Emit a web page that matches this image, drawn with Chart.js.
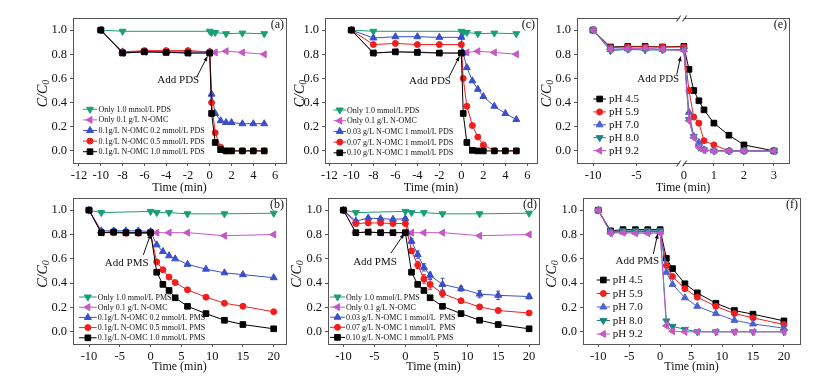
<!DOCTYPE html>
<html>
<head>
<meta charset="utf-8">
<script src="https://cdn.jsdelivr.net/npm/chart.js@4.4.0/dist/chart.umd.min.js"></script>
<style>
html,body{margin:0;padding:0;background:#fff;}
#wrap{position:relative;width:819px;height:382px;overflow:hidden;}
#wrap canvas{position:absolute;}
</style>
</head>
<body>
<div id="wrap"></div>
<script>
// ---- data ----
// PDS panels (a), (c): time in min
var timePDS      = [-10,-8,-6,-4,-2,0,0.17,0.5,1,1.5,2,3,4,5];
var timeCtrlPDS  = [-10,-8,0,0.17,0.5,1.5,3,5];
var timeOmcPDS   = [-10,-8,-6,-4,-2,0,0.5,1.5,3,5];
var pdsOnly      = [1.0,0.99,0.99,0.98,0.98,0.97,0.975,0.97];
var omcOnlyPDS   = [1.0,0.81,0.82,0.82,0.81,0.81,0.815,0.825,0.815,0.80];
var aPDS02 = [1.0,0.82,0.82,0.82,0.82,0.82,0.47,0.31,0.25,0.235,0.235,0.225,0.225,0.225];
var aPDS05 = [1.0,0.82,0.83,0.83,0.83,0.82,0.40,0.15,0.03,0.0,0.0,0.0,0.0,0.0];
var aPDS10 = [1.0,0.81,0.82,0.815,0.81,0.81,0.31,0.07,0.01,0.0,0.0,0.0,0.0,0.0];
var cOMC003 = [1.0,0.935,0.945,0.945,0.94,0.94,0.81,0.69,0.58,0.51,0.45,0.37,0.31,0.26];
var cOMC007 = [1.0,0.88,0.89,0.88,0.88,0.88,0.60,0.37,0.21,0.115,0.05,0.0,0.0,0.0];
var cOMC010 = [1.0,0.81,0.82,0.815,0.81,0.81,0.31,0.07,0.005,0.0,0.0,0.0,0.0,0.0];

// PMS panels (b), (d)
var timePMS     = [-10,-8,-6,-4,-2,0,1,2,3,4,6,9,12,15,20];
var timeCtrlPMS = [-10,-8,0,1,3,6,12,20];
var timeOmcPMS  = [-10,-8,-6,-4,-2,0,1,3,6,12,20];
var pmsOnly     = [1.0,0.98,0.99,0.98,0.98,0.97,0.97,0.975];
var omcOnlyPMS  = [1.0,0.815,0.82,0.815,0.815,0.815,0.815,0.815,0.815,0.79,0.80];
var bPMS02 = [1.0,0.83,0.83,0.83,0.83,0.825,0.715,0.66,0.625,0.60,0.555,0.515,0.485,0.47,0.445];
var bPMS05 = [1.0,0.815,0.815,0.81,0.81,0.81,0.575,0.51,0.45,0.405,0.345,0.285,0.235,0.21,0.165];
var bPMS10 = [1.0,0.815,0.82,0.815,0.815,0.815,0.49,0.39,0.34,0.28,0.21,0.15,0.095,0.06,0.025];
var dOMC003 = [1.0,0.91,0.935,0.93,0.925,0.93,0.745,0.635,0.53,0.465,0.39,0.355,0.31,0.30,0.29];
var dOMC007 = [1.0,0.89,0.895,0.895,0.89,0.89,0.665,0.55,0.435,0.39,0.315,0.255,0.205,0.175,0.155];
var dOMC010 = [1.0,0.815,0.82,0.815,0.815,0.815,0.49,0.39,0.34,0.28,0.21,0.15,0.095,0.06,0.025];
var dErr003 = [0,0.01,0.01,0.01,0.01,0.01,0.02,0.03,0.03,0.025,0.05,0.02,0.03,0.035,0.02];
var dErr007 = [0,0.01,0.01,0.01,0.01,0.01,0.02,0.03,0.035,0.04,0.03,0.015,0.015,0.01,0.01];

// pH panels (e) PDS, (f) PMS
var timePHe = [-10,-8,-6,-4,-2,0,0.17,0.33,0.5,0.67,1,1.5,2,3];
var e45 = [1.0,0.86,0.865,0.865,0.86,0.865,0.675,0.50,0.415,0.34,0.23,0.13,0.05,0.0];
var e59 = [1.0,0.855,0.86,0.86,0.86,0.86,0.50,0.28,0.23,0.085,0.05,0.0,0.0,0.0];
var e70 = [1.0,0.84,0.845,0.845,0.84,0.84,0.32,0.12,0.07,0.01,0.0,0.0,0.0,0.0];
var e80 = [1.0,0.83,0.84,0.835,0.835,0.835,0.26,0.12,0.03,0.01,0.0,0.0,0.0,0.0];
var e92 = [1.0,0.84,0.845,0.85,0.84,0.83,0.25,0.11,0.03,0.005,0.0,0.0,0.0,0.0];
var timePHf = [-10,-8,-6,-4,-2,0,1,2,4,6,9,12,15,20];
var f45 = [1.0,0.83,0.84,0.84,0.84,0.84,0.605,0.52,0.395,0.32,0.235,0.175,0.145,0.09];
var f59 = [1.0,0.82,0.825,0.825,0.825,0.825,0.545,0.455,0.355,0.285,0.21,0.15,0.115,0.06];
var f70 = [1.0,0.82,0.82,0.82,0.82,0.82,0.49,0.39,0.28,0.21,0.15,0.095,0.065,0.03];
var f80 = [1.0,0.815,0.83,0.83,0.83,0.83,0.09,0.045,0.02,0.0,0.0,0.0,0.0,0.0];
var f92 = [1.0,0.81,0.815,0.81,0.81,0.81,0.05,0.005,0.0,0.0,0.0,0.0,0.0,0.0];

// tick labels
var yTicks   = [0,0.2,0.4,0.6,0.8,1.0];
var xTicksAC = [-12,-10,-8,-6,-4,-2,0,2,4,6];
var xTicksBDF= [-10,-5,0,5,10,15,20];
var xTicksE  = [-10,-5,0,1,2,3];

// ---- styles ----
var SERIF = '"Liberation Serif","Times New Roman",serif';
Chart.defaults.font.family = SERIF;
Chart.defaults.color = '#111';
var AX = '#555';
var GREEN='#1a9e78', MAG='#c558c5', BLUE='#3b4fc8', RED='#f21d1d', BLACK='#000000', TEAL='#1b8585', BLUE2='#4a62d0';
var DOWN={s:'triangle',r:180,rad:4}, LEFT={s:'triangle',r:270,rad:4}, UP={s:'triangle',r:0,rad:4},
    DOT={s:'circle',r:0,rad:3}, SQ={s:'rect',r:0,rad:4};

// broken axis in (e): left part 1:1, right part stretched
function eX(t){ return t < 0 ? t : 0.46 + t*3.46; }

var wrap = document.getElementById('wrap');

function arrow(ctx,x1,y1,x2,y2){
  ctx.beginPath(); ctx.moveTo(x1,y1); ctx.lineTo(x2,y2); ctx.stroke();
  var ang=Math.atan2(y2-y1,x2-x1), hl=5, hw=0.42;
  ctx.beginPath(); ctx.moveTo(x2,y2);
  ctx.lineTo(x2-hl*Math.cos(ang-hw), y2-hl*Math.sin(ang-hw));
  ctx.lineTo(x2-hl*Math.cos(ang+hw), y2-hl*Math.sin(ang+hw));
  ctx.closePath(); ctx.fill();
}

function marker(ctx,d,x,y){
  ctx.fillStyle=d.borderColor; ctx.strokeStyle=d.borderColor; ctx.lineWidth=1;
  if (Chart.helpers && Chart.helpers.drawPoint) {
    Chart.helpers.drawPoint(ctx,{pointStyle:d.pointStyle,rotation:d.rotation,radius:d.pointRadius,borderWidth:1},x,y);
  } else {
    ctx.beginPath(); ctx.arc(x,y,3,0,Math.PI*2); ctx.fill();
  }
}

function panel(p){
  var L=p.box[0],T=p.box[1],R=p.box[2],B=p.box[3];
  var padL=62,padT=12,padR=16,padB=40;
  var cv=document.createElement('canvas');
  cv.width=R-L+padL+padR; cv.height=B-T+padT+padB;
  cv.style.left=(L-padL)+'px'; cv.style.top=(T-padT)+'px';
  wrap.appendChild(cv);
  var n=p.series.length;
  var datasets=p.series.map(function(s,i){
    var xs = p.xmap ? s.t.map(p.xmap) : s.t;
    return {label:s.label, data:xs.map(function(x,k){return {x:x,y:s.v[k]};}),
      borderColor:s.c, backgroundColor:s.c, pointBackgroundColor:s.c, pointBorderColor:s.c,
      borderWidth:1, pointStyle:s.m.s, rotation:s.m.r, pointRadius:s.m.rad, pointHoverRadius:s.m.rad,
      pointBorderWidth:1, tension:0, fill:false, order:n-1-i, err:s.e};
  });

  var deco={
    id:'deco',
    afterDraw:function(chart){
      var ctx=chart.ctx, a=chart.chartArea, xs=chart.scales.x, ys=chart.scales.y;
      ctx.save();
      // error bars
      chart.data.datasets.forEach(function(d){
        if(!d.err) return;
        ctx.strokeStyle=d.borderColor; ctx.lineWidth=1;
        d.data.forEach(function(pt,k){
          var e=d.err[k]; if(!e) return;
          var px=xs.getPixelForValue(pt.x), y1=ys.getPixelForValue(pt.y+e), y2=ys.getPixelForValue(pt.y-e);
          ctx.beginPath(); ctx.moveTo(px,y1); ctx.lineTo(px,y2);
          ctx.moveTo(px-2,y1); ctx.lineTo(px+2,y1); ctx.moveTo(px-2,y2); ctx.lineTo(px+2,y2); ctx.stroke();
        });
      });
      // frame
      ctx.strokeStyle=AX; ctx.lineWidth=1;
      ctx.strokeRect(a.left+0.5,a.top+0.5,a.right-a.left,a.bottom-a.top);
      // axis break
      if(p.brk!==undefined){
        var bx=xs.getPixelForValue(p.brk);
        [a.top+0.5,a.bottom+0.5].forEach(function(yy){
          ctx.fillStyle='#fff'; ctx.fillRect(bx-2,yy-1.5,4,3);
          ctx.strokeStyle='#333'; ctx.beginPath();
          ctx.moveTo(bx-5,yy+3); ctx.lineTo(bx-1,yy-3);
          ctx.moveTo(bx+1,yy+3); ctx.lineTo(bx+5,yy-3); ctx.stroke();
        });
      }
      // legend
      var lg=p.legend;
      chart.data.datasets.forEach(function(d,i){
        var y=a.top+lg.y0+i*lg.dy, x1=a.left+lg.x1, x2=a.left+lg.x2;
        ctx.strokeStyle=d.borderColor; ctx.lineWidth=1;
        ctx.beginPath(); ctx.moveTo(x1,y); ctx.lineTo(x2,y); ctx.stroke();
        marker(ctx,d,(x1+x2)/2,y);
        ctx.fillStyle='#111'; ctx.font=lg.fs+'px '+SERIF; ctx.textAlign='left'; ctx.textBaseline='middle';
        ctx.fillText(d.label,a.left+lg.tx,y+0.5);
      });
      // "Add ..." annotation
      var an=p.note;
      ctx.fillStyle='#111'; ctx.strokeStyle='#111'; ctx.lineWidth=1;
      ctx.font='11px '+SERIF; ctx.textAlign='center'; ctx.textBaseline='middle';
      ctx.fillText(an.text,a.left+an.tx,a.top+an.ty);
      arrow(ctx,a.left+an.x1,a.top+an.y1,a.left+an.x2,a.top+an.y2);
      // panel letter
      ctx.font='12px '+SERIF; ctx.textAlign='right';
      ctx.fillText(p.tag,a.right-2,a.top+6.5);
      // x title
      ctx.textAlign='center';
      ctx.fillText('Time (min)',(a.left+a.right)/2,a.bottom+p.xty);
      // y title C/C0
      ctx.translate(a.left-p.ytx,(a.top+a.bottom)/2+3); ctx.rotate(-Math.PI/2);
      ctx.font='italic 14px '+SERIF; var w1=ctx.measureText('C/C').width;
      ctx.font='italic 10px '+SERIF; var w2=ctx.measureText('0').width;
      var sx=-(w1+w2)/2;
      ctx.textAlign='left'; ctx.font='italic 14px '+SERIF; ctx.fillText('C/C',sx,0);
      ctx.font='italic 10px '+SERIF; ctx.fillText('0',sx+w1,3);
      ctx.restore();
    }
  };

  new Chart(cv,{
    type:'line',
    data:{datasets:datasets},
    options:{
      responsive:false, animation:false, devicePixelRatio:1,
      layout:{padding:{left:0,top:padT,right:padR,bottom:0}},
      plugins:{legend:{display:false},tooltip:{enabled:false}},
      scales:{
        x:{type:'linear',min:p.xmin,max:p.xmax,
          afterBuildTicks:function(s){s.ticks=p.xticks.map(function(v){return {value:v};});},
          afterFit:function(s){s.height=padB;s.paddingLeft=0;s.paddingRight=0;},
          ticks:{callback:function(v,i){return p.xlabels[i];},font:{size:12.5},color:'#111',padding:2,maxRotation:0,autoSkip:false},
          grid:{drawOnChartArea:false,drawTicks:true,tickLength:3,color:AX},
          border:{display:true,color:AX,width:1}},
        y:{type:'linear',min:-0.1,max:1.1,
          afterBuildTicks:function(s){s.ticks=yTicks.map(function(v){return {value:v};});},
          afterFit:function(s){s.width=padL;s.paddingTop=0;s.paddingBottom=0;},
          ticks:{callback:function(v){return v.toFixed(1);},font:{size:12.5},color:'#111',padding:3,autoSkip:false},
          grid:{drawOnChartArea:false,drawTicks:true,tickLength:3,color:AX},
          border:{display:true,color:AX,width:1}}
      }
    },
    plugins:[deco]
  });
}

// (a)
panel({box:[73,18,286,163], xmin:-12.55, xmax:7.0, xticks:xTicksAC, xlabels:xTicksAC.map(String), tag:'(a)', xty:25, ytx:30,
  legend:{x1:10,x2:24,tx:25.5,y0:91.3,dy:10.6,fs:8},
  note:{text:'Add PDS',tx:105.3,ty:62,x1:123.7,y1:59.3,x2:134.3,y2:38.5},
  series:[
    {label:'Only 1.0 mmol/L PDS',t:timeCtrlPDS,v:pdsOnly,c:GREEN,m:DOWN},
    {label:'Only 0.1 g/L N-OMC',t:timeOmcPDS,v:omcOnlyPDS,c:MAG,m:LEFT},
    {label:'0.1g/L N-OMC 0.2 mmol/L PDS',t:timePDS,v:aPDS02,c:BLUE,m:UP},
    {label:'0.1g/L N-OMC 0.5 mmol/L PDS',t:timePDS,v:aPDS05,c:RED,m:DOT},
    {label:'0.1g/L N-OMC 1.0 mmol/L PDS',t:timePDS,v:aPDS10,c:BLACK,m:SQ}
  ]});

// (c)
panel({box:[325,18,537,163], xmin:-12.4, xmax:6.88, xticks:xTicksAC, xlabels:xTicksAC.map(String), tag:'(c)', xty:25, ytx:25,
  legend:{x1:8.5,x2:21,tx:22,y0:92,dy:10.7,fs:8},
  note:{text:'Add PDS',tx:105,ty:63,x1:124,y1:59,x2:134.3,y2:38.5},
  series:[
    {label:'Only 1.0 mmol/L PDS',t:timeCtrlPDS,v:pdsOnly,c:GREEN,m:DOWN},
    {label:'Only 0.1 g/L N-OMC',t:timeOmcPDS,v:omcOnlyPDS,c:MAG,m:LEFT},
    {label:'0.03 g/L N-OMC 1 mmol/L PDS',t:timePDS,v:cOMC003,c:BLUE,m:UP},
    {label:'0.07 g/L N-OMC 1 mmol/L PDS',t:timePDS,v:cOMC007,c:RED,m:DOT},
    {label:'0.10 g/L N-OMC 1 mmol/L PDS',t:timePDS,v:cOMC010,c:BLACK,m:SQ}
  ]});

// (e) broken time axis
panel({box:[577,18,789,163], xmin:-11.85, xmax:12.57, xmap:eX, brk:0.2,
  xticks:xTicksE.map(eX), xlabels:xTicksE.map(String), tag:'(e)', xty:25, ytx:30,
  legend:{x1:16.3,x2:29,tx:32,y0:81,dy:12.9,fs:11},
  note:{text:'Add PDS',tx:81.3,ty:61,x1:99.7,y1:56.7,x2:103.7,y2:38.5},
  series:[
    {label:'pH 4.5',t:timePHe,v:e45,c:BLACK,m:SQ},
    {label:'pH 5.9',t:timePHe,v:e59,c:RED,m:DOT},
    {label:'pH 7.0',t:timePHe,v:e70,c:BLUE2,m:UP},
    {label:'pH 8.0',t:timePHe,v:e80,c:TEAL,m:DOWN},
    {label:'pH 9.2',t:timePHe,v:e92,c:MAG,m:LEFT}
  ]});

// (b)
panel({box:[73,198,286,344], xmin:-12.6, xmax:22, xticks:xTicksBDF, xlabels:xTicksBDF.map(String), tag:'(b)', xty:23, ytx:30,
  legend:{x1:6,x2:23.7,tx:24.7,y0:99,dy:10.2,fs:8},
  note:{text:'Add PMS',tx:53.7,ty:64.7,x1:70.3,y1:57,x2:77.7,y2:36},
  series:[
    {label:'Only 1.0 mmol/L PMS',t:timeCtrlPMS,v:pmsOnly,c:GREEN,m:DOWN},
    {label:'Only 0.1 g/L N-OMC',t:timeOmcPMS,v:omcOnlyPMS,c:MAG,m:LEFT},
    {label:'0.1g/L N-OMC 0.2 mmol/L PMS',t:timePMS,v:bPMS02,c:BLUE,m:UP},
    {label:'0.1g/L N-OMC 0.5 mmol/L PMS',t:timePMS,v:bPMS05,c:RED,m:DOT},
    {label:'0.1g/L N-OMC 1.0 mmol/L PMS',t:timePMS,v:bPMS10,c:BLACK,m:SQ}
  ]});

// (d)
panel({box:[328,198,539,344], xmin:-12.5, xmax:21.6, xticks:xTicksBDF, xlabels:xTicksBDF.map(String), tag:'(d)', xty:23, ytx:31,
  legend:{x1:2,x2:17,tx:18,y0:99,dy:10.1,fs:8},
  note:{text:'Add PMS',tx:47,ty:64,x1:63,y1:55,x2:76,y2:36},
  series:[
    {label:'Only 1.0 mmol/L PMS',t:timeCtrlPMS,v:pmsOnly,c:GREEN,m:DOWN},
    {label:'Only 0.1 g/L N-OMC',t:timeOmcPMS,v:omcOnlyPMS,c:MAG,m:LEFT},
    {label:'0.03 g/L N-OMC 1 mmol/L  PMS',t:timePMS,v:dOMC003,c:BLUE,m:UP,e:dErr003},
    {label:'0.07 g/L N-OMC 1 mmol/L  PMS',t:timePMS,v:dOMC007,c:RED,m:DOT,e:dErr007},
    {label:'0.10 g/L N-OMC 1 mmol/L PMS',t:timePMS,v:dOMC010,c:BLACK,m:SQ}
  ]});

// (f)
panel({box:[583,198,800,344], xmin:-12.47, xmax:22.6, xticks:xTicksBDF, xlabels:xTicksBDF.map(String), tag:'(f)', xty:23, ytx:31,
  legend:{x1:13.7,x2:27,tx:29.7,y0:82,dy:13.5,fs:11},
  note:{text:'Add PMS',tx:54.3,ty:63,x1:70.3,y1:56,x2:74.7,y2:36},
  series:[
    {label:'pH 4.5',t:timePHf,v:f45,c:BLACK,m:SQ},
    {label:'pH 5.9',t:timePHf,v:f59,c:RED,m:DOT},
    {label:'pH 7.0',t:timePHf,v:f70,c:BLUE2,m:UP},
    {label:'pH 8.0',t:timePHf,v:f80,c:TEAL,m:DOWN},
    {label:'pH 9.2',t:timePHf,v:f92,c:MAG,m:LEFT}
  ]});
</script>
</body>
</html>
